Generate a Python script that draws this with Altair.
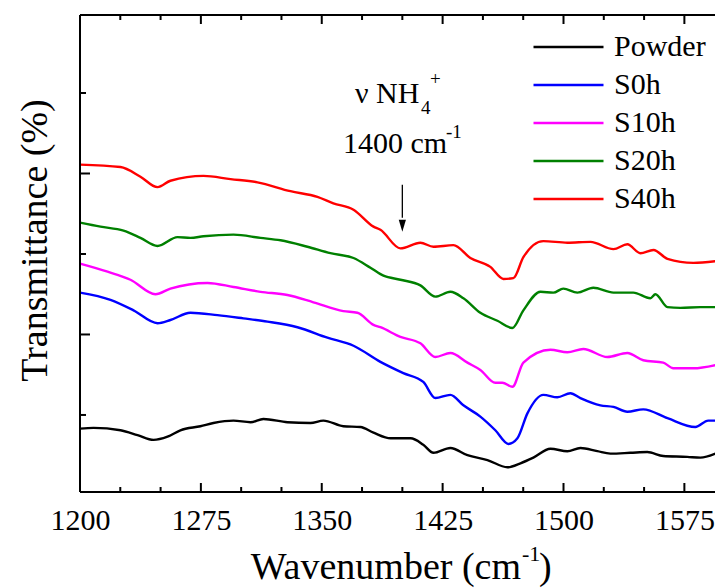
import altair as alt
import pandas as pd

series = ["Powder", "S0h", "S10h", "S20h", "S40h"]
colors = ["#000000", "#0000ff", "#ff00ff", "#008000", "#ff0000"]

powder_x = [1200, 1208.4, 1225.1, 1235.7, 1245.6, 1254.3, 1262.3, 1274.7, 1282.8, 1295.2, 1305.8, 1313.8,
            1328.7, 1343.0, 1351.0, 1363.4, 1374.0, 1382.1, 1392.7, 1405.1, 1413.0, 1419.3, 1429.8, 1440.4,
            1452.8, 1465.2, 1473.3, 1481.3, 1491.9, 1502.4, 1510.5, 1521.0, 1529.1, 1541.5, 1552.0, 1561.9,
            1576.8, 1584.9, 1594.3]
powder_y = [8.3, 8.4, 8.1, 7.5, 6.9, 7.3, 8.1, 8.6, 9.0, 9.3, 9.1, 9.5,
            9.1, 9.0, 9.3, 8.6, 8.5, 7.8, 7.1, 7.1, 6.3, 5.3, 5.9, 5.0,
            4.4, 3.5, 4.0, 4.7, 5.8, 5.5, 5.9, 5.5, 5.2, 5.3, 5.4, 4.9,
            4.8, 4.7, 5.2]

s0h_x = [1200, 1218.9, 1233.2, 1248.1, 1256.1, 1268.5, 1285.3, 1301.4, 1316.3, 1334.9, 1353.5, 1369.7,
         1386.4, 1400.6, 1413.0, 1420.5, 1429.8, 1437.9, 1448.4, 1457.7, 1465.8, 1471.4, 1477.6, 1487.5,
         1496.2, 1504.3, 1510.5, 1522.9, 1531.0, 1539.6, 1549.5, 1564.5, 1581.8, 1589.8, 1594.3]
s0h_y = [25.2, 24.3, 23.0, 21.4, 21.8, 22.7, 22.4, 22.0, 21.6, 20.9, 19.6, 18.6,
         16.6, 15.2, 14.1, 12.1, 12.5, 11.2, 9.8, 8.1, 6.4, 7.1, 10.2, 12.5,
         12.2, 12.7, 12.1, 11.2, 11.0, 10.4, 10.7, 9.6, 8.5, 9.3, 9.3]

s10h_x = [1200, 1217.1, 1231.3, 1246.8, 1256.1, 1279.1, 1295.2, 1312.0, 1328.7, 1344.8, 1363.4, 1372.1,
          1382.1, 1386.4, 1398.8, 1411.2, 1420.5, 1429.8, 1440.4, 1448.4, 1457.7, 1462.1, 1468.3, 1475.1,
          1491.9, 1502.4, 1512.3, 1527.2, 1539.6, 1549.5, 1561.9, 1568.1, 1580.6, 1594.3]
s10h_y = [28.8, 27.8, 26.8, 25.0, 25.7, 26.4, 25.9, 25.3, 24.9, 24.0, 22.9, 22.7,
          21.2, 20.9, 19.7, 18.9, 17.2, 17.7, 16.5, 15.6, 14.0, 14.0, 13.5, 16.5,
          18.1, 17.8, 18.2, 17.2, 17.7, 16.8, 16.5, 15.8, 15.8, 16.2]

s20h_x = [1200, 1212.7, 1227.0, 1237.5, 1248.1, 1260.5, 1268.5, 1276.6, 1295.2, 1312.0, 1324.4, 1341.1,
          1355.4, 1369.7, 1380.2, 1388.3, 1398.8, 1411.2, 1420.5, 1429.8, 1437.9, 1448.4, 1459.0, 1468.3,
          1475.1, 1485.7, 1493.7, 1499.9, 1508.6, 1518.5, 1531.0, 1543.3, 1553.9, 1557.0, 1564.5, 1572.5,
          1584.9, 1594.3]
s20h_y = [33.9, 33.4, 32.9, 32.0, 31.0, 32.1, 32.0, 32.2, 32.4, 32.0, 31.7, 30.9,
          30.1, 29.5, 28.3, 27.3, 26.8, 26.1, 24.7, 25.3, 24.5, 22.7, 21.7, 20.8,
          23.0, 25.3, 25.2, 25.7, 25.2, 25.8, 25.2, 25.2, 24.5, 25.0, 23.4, 23.3,
          23.4, 23.4]

s40h_x = [1200, 1225.1, 1237.5, 1248.1, 1256.1, 1276.6, 1293.4, 1310.1, 1330.6, 1347.3, 1357.2, 1369.7,
          1382.1, 1386.4, 1398.8, 1411.2, 1419.3, 1431.7, 1442.2, 1454.6, 1462.7, 1468.9, 1475.1, 1487.5,
          1502.4, 1516.7, 1531.0, 1539.6, 1547.7, 1555.8, 1564.5, 1580.6, 1594.3]
s40h_y = [41.1, 40.8, 39.6, 38.3, 39.1, 39.7, 39.3, 38.9, 37.8, 37.1, 36.3, 35.5,
          33.4, 33.0, 30.7, 31.4, 30.9, 31.1, 29.5, 28.4, 26.9, 27.0, 29.6, 31.6,
          31.4, 31.5, 30.6, 31.2, 30.1, 30.5, 29.4, 28.9, 29.1]

x_ticks_major = [1200, 1275, 1350, 1425, 1500, 1575]
x_ticks_minor = [1225, 1250, 1300, 1325, 1375, 1400, 1450, 1475, 1525, 1550]
y_ticks_major = [20, 40]
y_ticks_minor = [10, 30, 50]

xs = [powder_x, s0h_x, s10h_x, s20h_x, s40h_x]
ys = [powder_y, s0h_y, s10h_y, s20h_y, s40h_y]

rows = []
for name, xv, yv in zip(series, xs, ys):
    for a, b in zip(xv, yv):
        rows.append({"sample": name, "wavenumber": a, "transmittance": b})
df = pd.DataFrame(rows)

FONT = "Liberation Serif"
W, H = 635, 477
X0, X1 = 1200, 1594
Y0, Y1 = 0.43, 59.69
PX_PER_Y = H / (Y1 - Y0)

xscale = alt.Scale(domain=[X0, X1], nice=False, zero=False)
yscale = alt.Scale(domain=[Y0, Y1], nice=False, zero=False)

lines = alt.Chart(df).mark_line(strokeWidth=2.4, interpolate="monotone").encode(
    x=alt.X("wavenumber:Q", scale=xscale,
            axis=alt.Axis(orient="bottom", values=x_ticks_major, format="d", ticks=False, domain=False,
                          grid=False, labelFont=FONT, labelFontSize=30, labelColor="black",
                          labelPadding=13, labelFlush=False, labelOverlap=False, title=None)),
    y=alt.Y("transmittance:Q", scale=yscale,
            axis=alt.Axis(orient="left", ticks=False, labels=False, domain=False, grid=False,
                          title="Transmittance (%)", titleFont=FONT, titleFontSize=38,
                          titleFontWeight="normal", titleColor="black", titlePadding=26,
                          titleY=225)),
    color=alt.Color("sample:N", scale=alt.Scale(domain=series, range=colors),
                    sort=series,
                    legend=alt.Legend(orient="none", legendX=452, legendY=17, title=None,
                                      symbolType="stroke", symbolSize=4900, symbolStrokeWidth=2.5,
                                      clipHeight=30, rowPadding=8, labelFont=FONT, labelFontSize=30,
                                      labelColor="black", labelOffset=9, labelLimit=300, padding=0)),
    order=alt.Order("sample:N"),
)

XT = alt.X("wavenumber:Q", scale=xscale, axis=None)
YT = alt.Y("transmittance:Q", scale=yscale, axis=None)

# frame: bottom and top horizontal rules, left vertical rule (no right border, as in the cropped original)
frame_h = pd.DataFrame({"wavenumber": [X0, X0], "w2": [X1, X1], "transmittance": [Y0, Y1]})
frame_v = pd.DataFrame({"wavenumber": [X0], "transmittance": [Y0], "t2": [Y1]})
frame = [
    alt.Chart(frame_h).mark_rule(color="black", strokeWidth=2).encode(x=XT, x2="w2:Q", y=YT),
    alt.Chart(frame_v).mark_rule(color="black", strokeWidth=2).encode(x=XT, y=YT, y2="t2:Q"),
]

# inward ticks (major 9 px, minor 5 px) on bottom and top; (major 10 px, minor 6 px) on the left
major_len = 9 / PX_PER_Y
minor_len = 5 / PX_PER_Y
tick_rows = []
for v in x_ticks_major:
    tick_rows.append({"wavenumber": v, "transmittance": Y0, "t2": Y0 + major_len})
    tick_rows.append({"wavenumber": v, "transmittance": Y1, "t2": Y1 - major_len})
for v in x_ticks_minor:
    tick_rows.append({"wavenumber": v, "transmittance": Y0, "t2": Y0 + minor_len})
    tick_rows.append({"wavenumber": v, "transmittance": Y1, "t2": Y1 - minor_len})
xticks_df = pd.DataFrame(tick_rows)

ymaj = pd.DataFrame({"transmittance": y_ticks_major})
ymin = pd.DataFrame({"transmittance": y_ticks_minor})
tick_style = dict(color="black", strokeWidth=2)
ticks = [
    alt.Chart(xticks_df).mark_rule(**tick_style).encode(x=XT, y=YT, y2="t2:Q"),
    alt.Chart(ymaj).mark_rule(**tick_style).encode(y=YT, x=alt.value(0), x2=alt.value(10)),
    alt.Chart(ymin).mark_rule(**tick_style).encode(y=YT, x=alt.value(0), x2=alt.value(6)),
]

def label(text, x, y, size, align="left"):
    return alt.Chart(pd.DataFrame({"t": [text]})).mark_text(
        font=FONT, fontSize=size, color="black", align=align, baseline="alphabetic"
    ).encode(x=alt.value(x), y=alt.value(y), text="t:N")

ann = [
    label("ν NH", 275, 88, 30),
    label("4", 341, 99, 19),
    label("+", 350, 70, 19),
    label("1400 cm", 263, 138, 30),
    label("-1", 366, 123, 19),
    label("Wavenumber (cm", 441, 564, 38, align="right"),
    label("-1", 442, 546, 22),
    label(")", 459, 564, 38),
]

arrow_df = pd.DataFrame({"x": [1400], "y1": [38.6], "y2": [34.5], "yh": [33.5]})
arrow_line = alt.Chart(arrow_df).mark_rule(color="black", strokeWidth=1.3).encode(
    x=alt.X("x:Q", scale=xscale, axis=None), y=alt.Y("y1:Q", scale=yscale, axis=None), y2="y2:Q")
arrow_head = alt.Chart(arrow_df).mark_point(
    shape="M-0.6,-1L0.6,-1L0,1Z", size=144, filled=True, color="black", opacity=1
).encode(x=alt.X("x:Q", scale=xscale, axis=None), y=alt.Y("yh:Q", scale=yscale, axis=None))

chart = alt.layer(lines, *frame, *ticks, arrow_line, arrow_head, *ann).resolve_axis(
    x="independent", y="independent"
).properties(
    width=W, height=H,
    autosize=alt.AutoSizeParams(type="none"),
    padding={"left": 80, "top": 15, "right": 0, "bottom": 96},
).configure_view(stroke=None).configure(background="white")

chart.save("out.html", embed_options={"renderer": "svg", "actions": False})
